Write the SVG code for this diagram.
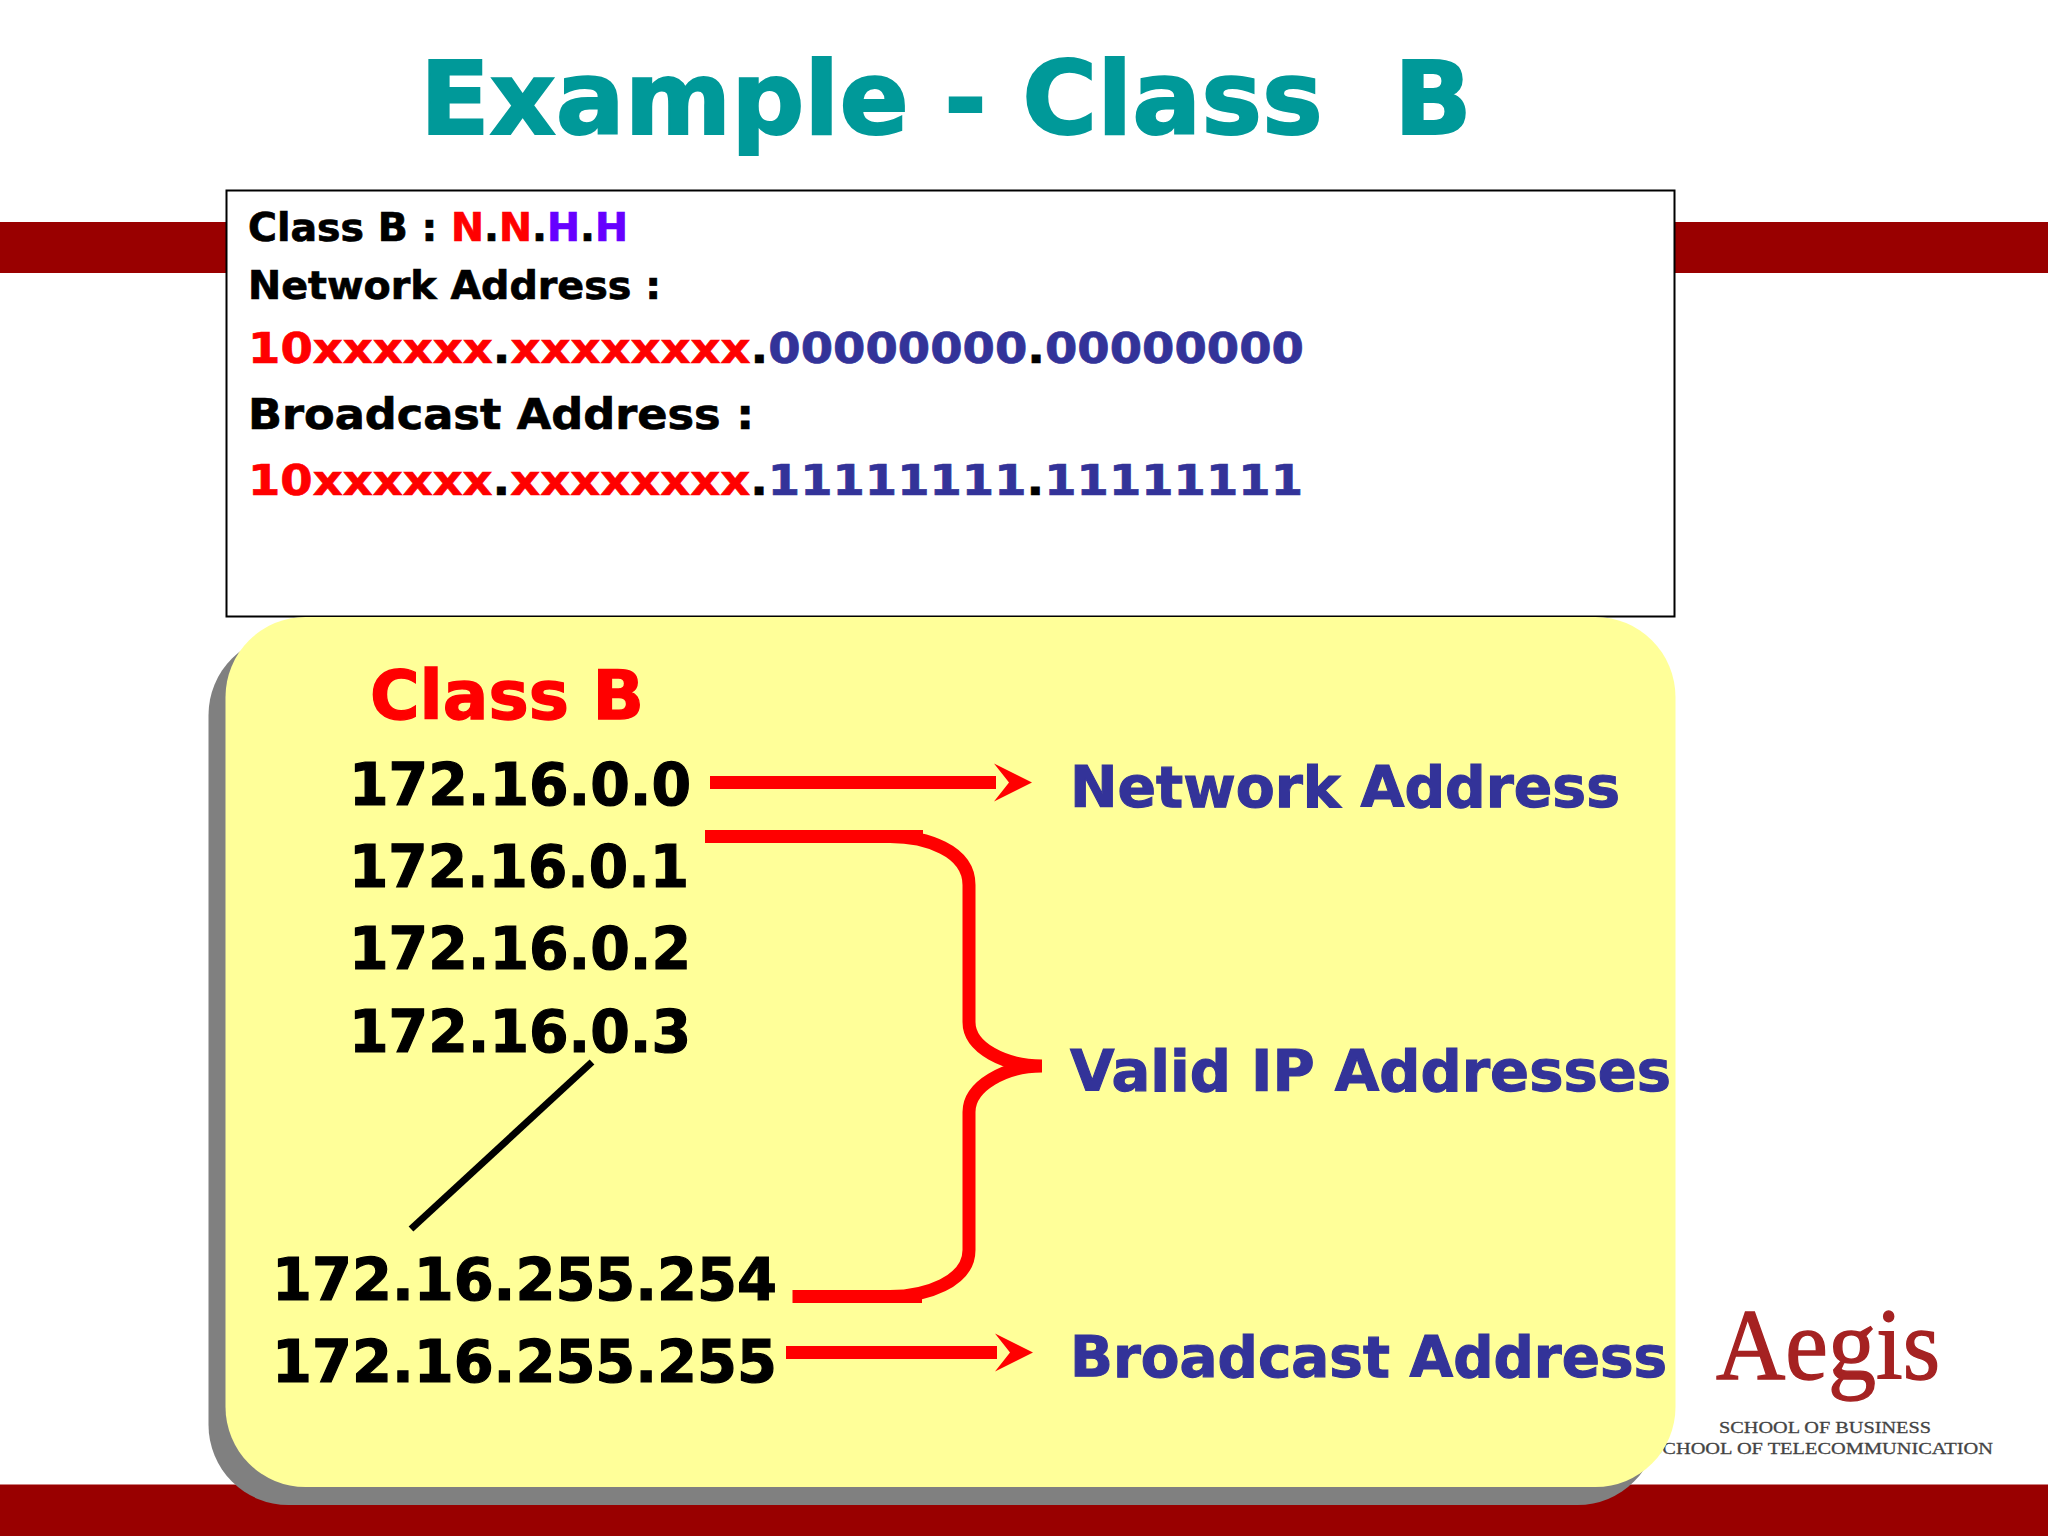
<svg xmlns="http://www.w3.org/2000/svg" width="2048" height="1536" viewBox="0 0 2048 1536">
<style>
text{font-family:"DejaVu Sans",Verdana,sans-serif;font-weight:700;white-space:pre}
.r{fill:#f00;stroke:#f00;stroke-width:.7}.k{fill:#000;stroke:#000;stroke-width:.7}.b{fill:#339;stroke:#339;stroke-width:.7}.p{fill:#60f;stroke:#60f;stroke-width:.7}
.t1{font-size:38.5px}.t2{font-size:43.5px}
.ip{font-size:58px;fill:#000;stroke:#000;stroke-width:1.2}.lab{font-size:57px;fill:#339;stroke:#339;stroke-width:1.1}
.red{fill:none;stroke:#f00;stroke-width:13}
.logo{font-family:"Liberation Serif","Times New Roman",serif;font-weight:400}
</style>
<defs>
<marker id="head" markerUnits="userSpaceOnUse" markerWidth="40" markerHeight="40" refX="2" refY="20" orient="auto" overflow="visible">
<path d="M0 1L38 20L0 39L15 20Z" fill="#f00"/>
</marker>
</defs>
<rect width="2048" height="1536" fill="#fff"/>
<g id="bands" fill="#900">
<rect x="0" y="222" width="2048" height="51"/>
<rect x="0" y="1484.500" width="2048" height="51.500"/>
</g>
<text id="title" x="420" y="134" font-size="102" fill="#099" stroke="#099" stroke-width="2" textLength="1052" lengthAdjust="spacingAndGlyphs">Example - Class  B</text>
<g id="logo">
<text class="logo" x="1716" y="1379" font-size="101" fill="#a52222" stroke="#a52222" stroke-width="1.4" textLength="224" lengthAdjust="spacingAndGlyphs">Aegis</text>
<text class="logo" x="1719" y="1433" font-size="17.500" fill="#444" stroke="#444" stroke-width=".3" textLength="212" lengthAdjust="spacingAndGlyphs">SCHOOL OF BUSINESS</text>
<text class="logo" x="1651" y="1454" font-size="17.500" fill="#444" stroke="#444" stroke-width=".3" textLength="342" lengthAdjust="spacingAndGlyphs">SCHOOL OF TELECOMMUNICATION</text>
</g>
<g id="info-box">
<rect x="226.500" y="190.500" width="1448" height="426" fill="#fff" stroke="#000" stroke-width="2"/>
<text class="t1" x="248" y="240.500" textLength="380" lengthAdjust="spacingAndGlyphs"><tspan class="k">Class B : </tspan><tspan class="r">N</tspan><tspan class="k">.</tspan><tspan class="r">N</tspan><tspan class="k">.</tspan><tspan class="p">H</tspan><tspan class="k">.</tspan><tspan class="p">H</tspan></text>
<text class="t1 k" x="248" y="298.500" textLength="413" lengthAdjust="spacingAndGlyphs">Network Address :</text>
<text class="t2" x="248" y="362.500" textLength="1056" lengthAdjust="spacingAndGlyphs"><tspan class="r">10xxxxxx</tspan><tspan class="k">.</tspan><tspan class="r">xxxxxxxx</tspan><tspan class="k">.</tspan><tspan class="b">00000000</tspan><tspan class="k">.</tspan><tspan class="b">00000000</tspan></text>
<text class="t2 k" x="248" y="428.500" textLength="506" lengthAdjust="spacingAndGlyphs">Broadcast Address :</text>
<text class="t2" x="248" y="494.500" textLength="1055" lengthAdjust="spacingAndGlyphs"><tspan class="r">10xxxxxx</tspan><tspan class="k">.</tspan><tspan class="r">xxxxxxxx</tspan><tspan class="k">.</tspan><tspan class="b">11111111</tspan><tspan class="k">.</tspan><tspan class="b">11111111</tspan></text>
</g>
<g id="panel">
<rect x="208.500" y="635" width="1449" height="870" rx="80" ry="80" fill="#808080"/>
<rect x="225.500" y="617" width="1450" height="870" rx="80" ry="80" fill="#ff9"/>
<text x="370" y="719" font-size="68" fill="#f00" stroke="#f00" stroke-width="1.4" textLength="274" lengthAdjust="spacingAndGlyphs">Class B</text>
</g>
<g id="ip-list">
<text class="ip" x="349" y="804.500" textLength="342" lengthAdjust="spacingAndGlyphs">172.16.0.0</text>
<text class="ip" x="349" y="886.500" textLength="340" lengthAdjust="spacingAndGlyphs">172.16.0.1</text>
<text class="ip" x="349" y="968.500" textLength="342" lengthAdjust="spacingAndGlyphs">172.16.0.2</text>
<text class="ip" x="349" y="1051.500" textLength="342" lengthAdjust="spacingAndGlyphs">172.16.0.3</text>
<text class="ip" x="272" y="1299.500" textLength="505" lengthAdjust="spacingAndGlyphs">172.16.255.254</text>
<text class="ip" x="272" y="1382" textLength="505" lengthAdjust="spacingAndGlyphs">172.16.255.255</text>
</g>
<g id="labels">
<text class="lab" x="1070" y="807" textLength="550" lengthAdjust="spacingAndGlyphs">Network Address</text>
<text class="lab" x="1070" y="1091" textLength="601" lengthAdjust="spacingAndGlyphs">Valid IP Addresses</text>
<text class="lab" x="1070" y="1377" textLength="597" lengthAdjust="spacingAndGlyphs">Broadcast Address</text>
</g>
<g id="connectors">
<line class="red" x1="710" y1="782.500" x2="996" y2="782.500" marker-end="url(#head)"/>
<line class="red" x1="786" y1="1352.500" x2="997" y2="1352.500" marker-end="url(#head)"/>
<path class="red" d="M705 836.500H923"/>
<path class="red" d="M792.500 1296.500H922"/>
<path class="red" d="M890 836.500C925 836.500 969 850 969 885V1022C969 1048 1005 1066 1042 1066C1005 1066 969 1086 969 1112V1250C969 1282 925 1296.500 890 1296.500"/>
<line x1="592" y1="1062" x2="411" y2="1229" stroke="#000" stroke-width="7"/>
</g>
</svg>
